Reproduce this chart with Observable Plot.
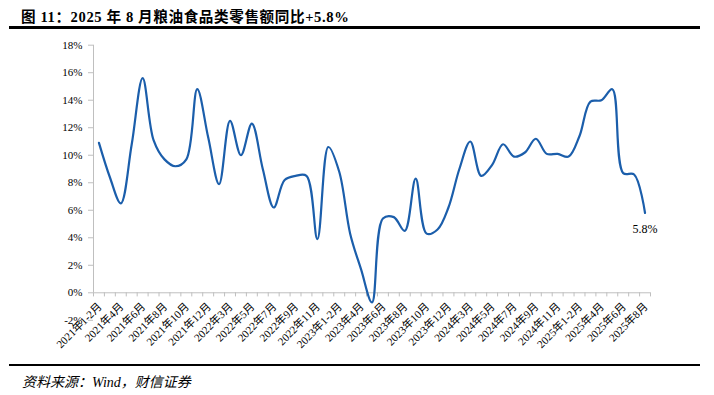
<!DOCTYPE html>
<html>
<head>
<meta charset="utf-8">
<script src="https://cdn.jsdelivr.net/npm/d3@7"></script>
<script src="https://cdn.jsdelivr.net/npm/@observablehq/plot@0.6"></script>
<style>
  body { margin: 0; background: #fff; }
  #wrap { position: relative; width: 714px; height: 395px; overflow: hidden; background: #fff; }
  #title { position: absolute; left: 21px; top: 5px; font-family: "Liberation Serif", "Noto Sans CJK SC", serif; font-weight: bold; font-size: 14.6px; letter-spacing: 0.6px; color: #000; white-space: nowrap; }
  .hr { position: absolute; left: 9px; width: 691px; background: #000; }
  #chart { position: absolute; left: 0; top: 30px; }
  #source { position: absolute; left: 22px; top: 371px; font-family: "Liberation Serif", "Noto Sans CJK SC", serif; font-style: italic; font-size: 14px; color: #000; white-space: nowrap; }
</style>
</head>
<body>
<div id="wrap">
  <div id="title">图 11：2025 年 8 月粮油食品类零售额同比+5.8%</div>
  <div class="hr" style="top:26px;height:2.5px"></div>
  <div id="chart"></div>
  <div class="hr" style="top:364px;height:2px"></div>
  <div id="source">资料来源：Wind，财信证券</div>
</div>
<script>
const months = [
  "2021年1-2月","2021年3月","2021年4月","2021年5月","2021年6月","2021年7月","2021年8月","2021年9月","2021年10月","2021年11月","2021年12月",
  "2022年1-2月","2022年3月","2022年4月","2022年5月","2022年6月","2022年7月","2022年8月","2022年9月","2022年10月","2022年11月","2022年12月",
  "2023年1-2月","2023年3月","2023年4月","2023年5月","2023年6月","2023年7月","2023年8月","2023年9月","2023年10月","2023年11月","2023年12月",
  "2024年1-2月","2024年3月","2024年4月","2024年5月","2024年6月","2024年7月","2024年8月","2024年9月","2024年10月","2024年11月","2024年12月",
  "2025年1-2月","2025年3月","2025年4月","2025年5月","2025年6月","2025年7月","2025年8月"
];
const values = [
  10.9, 8.4, 6.5, 10.8, 15.6, 11.1, 9.7, 9.2, 9.7, 14.8, 11.3,
  7.9, 12.5, 10.0, 12.3, 9.0, 6.2, 8.2, 8.5, 8.5, 3.9, 10.6,
  8.8, 4.3, 1.7, -0.7, 5.4, 5.5, 4.5, 8.3, 4.3, 4.6, 6.2,
  9.0, 11.0, 8.5, 9.3, 10.8, 9.9, 10.2, 11.2, 10.1, 10.1, 9.9,
  11.4, 13.9, 14.0, 14.8, 8.7, 8.6, 5.8
];
const xTickLabels = [
  "2021年1-2月","2021年4月","2021年6月","2021年8月","2021年10月","2021年12月",
  "2022年3月","2022年5月","2022年7月","2022年9月","2022年11月",
  "2023年1-2月","2023年4月","2023年6月","2023年8月","2023年10月","2023年12月",
  "2024年3月","2024年5月","2024年7月","2024年9月","2024年11月",
  "2025年1-2月","2025年4月","2025年6月","2025年8月"
];
const yTicks = [-2, 0, 2, 4, 6, 8, 10, 12, 14, 16, 18];

const data = months.map((m, i) => ({m, v: values[i]}));
const last = data[data.length - 1];

const W = 714, H = 332, ML = 93, MR = 64, MT = 14.7, MB = 42.2;
const step = (W - ML - MR) / months.length;
const gray = "#bfbfbf";
const font = "'Liberation Serif', 'Noto Sans CJK SC', serif";

const chart = Plot.plot({
  width: W, height: H,
  marginLeft: ML, marginRight: MR, marginTop: MT, marginBottom: MB,
  style: {fontFamily: font, fontSize: "11px", background: "transparent", color: "#000", overflow: "visible"},
  x: {type: "point", domain: months, padding: 0.5, axis: null},
  y: {domain: [-2, 18], axis: null},
  marks: [
    Plot.axisY(yTicks, {anchor: "left", label: null, tickFormat: d => d + "%", tickSize: 5, tickPadding: 6, stroke: gray, fill: "#000", fontSize: 11}),
    Plot.ruleX([months[0]], {y1: 0, y2: 18, dx: -step / 2, stroke: gray}),
    Plot.ruleY([0], {stroke: gray}),
    Plot.ruleX(months, {y1: 0, y2: -0.3, dx: -step / 2, stroke: gray}),
    Plot.ruleX([months[months.length - 1]], {y1: 0, y2: -0.3, dx: step / 2, stroke: gray}),
    Plot.line(data, {x: "m", y: "v", curve: "catmull-rom", stroke: "#1b5eab", strokeWidth: 2.2}),
    Plot.text(xTickLabels, {x: d => d, y: 0, text: d => d, rotate: -45, textAnchor: "end", lineAnchor: "middle", dx: 1, dy: 12, fill: "#000", fontSize: 11}),
    Plot.text([last], {x: "m", y: "v", text: d => d.v.toFixed(1) + "%", dy: 16, fill: "#000", fontSize: 12})
  ]
});
document.getElementById("chart").appendChild(chart);
</script>
</body>
</html>
